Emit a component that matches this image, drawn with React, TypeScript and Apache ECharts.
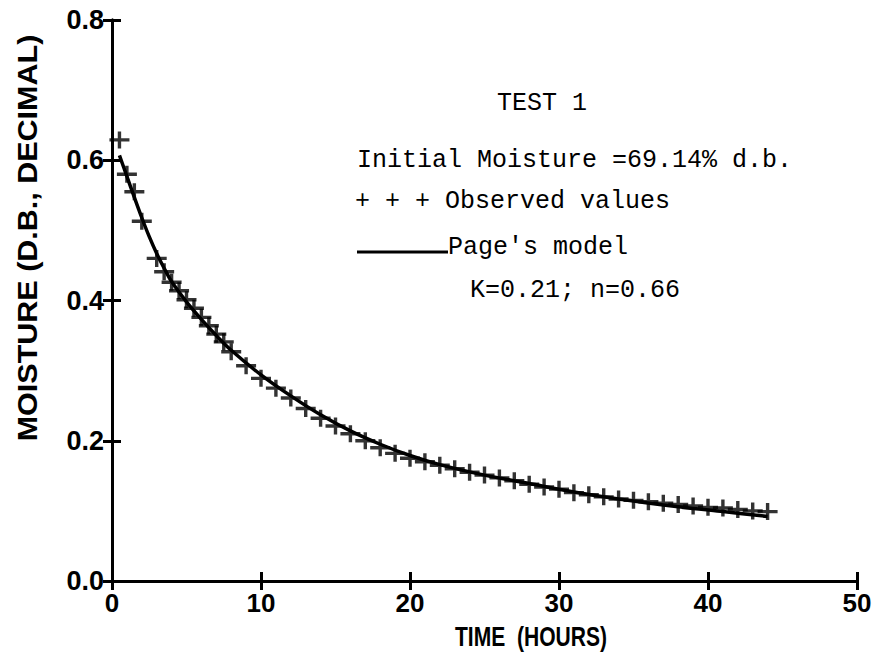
import React, { useEffect, useRef } from "react";
import * as echarts from "echarts";

// Observed values (+ markers)
const observedHours = [
  0.5, 1, 1.5, 2, 3, 3.5, 4, 4.5, 5, 5.5, 6, 6.5, 7, 7.5, 8, 9, 10, 11, 12, 13,
  14, 15, 16, 17, 18, 19, 20, 21, 22, 23, 24, 25, 26, 27, 28, 29, 30, 31, 32,
  33, 34, 35, 36, 37, 38, 39, 40, 41, 42, 43, 44,
];
const observedMoisture = [
  0.629, 0.58, 0.555, 0.513, 0.46, 0.441, 0.426, 0.414, 0.401, 0.389, 0.376,
  0.364, 0.352, 0.341, 0.327, 0.307, 0.289, 0.275, 0.261, 0.246, 0.232, 0.221,
  0.21, 0.2, 0.19, 0.182, 0.175, 0.17, 0.165, 0.16, 0.155, 0.151, 0.147, 0.143,
  0.138, 0.134, 0.131, 0.126, 0.123, 0.12, 0.117, 0.115, 0.113, 0.111, 0.109,
  0.107, 0.105, 0.104, 0.102, 0.1, 0.099,
];

// Page's model curve
const modelHours = [
  0.5, 1, 1.5, 2, 2.5, 3, 3.5, 4, 5, 6, 7, 8, 10, 12, 14, 16, 18, 20, 22, 25,
  28, 31, 34, 38, 41, 44,
];
const modelMoisture = [
  0.607, 0.577, 0.547, 0.518, 0.491, 0.467, 0.446, 0.427, 0.398, 0.373, 0.35,
  0.329, 0.294, 0.264, 0.237, 0.214, 0.195, 0.179, 0.166, 0.151, 0.139, 0.127,
  0.117, 0.106, 0.099, 0.092,
];

const xTicks = [0, 10, 20, 30, 40, 50];
const yTicks = [0, 0.2, 0.4, 0.6, 0.8];

const legendTexts = {
  title: "TEST 1",
  initial: "Initial Moisture =69.14% d.b.",
  observed: "+ + + Observed values",
  model: "Page's model",
  params: "K=0.21; n=0.66",
};

const xName = "TIME  (HOURS)";
const yName = "MOISTURE (D.B., DECIMAL)";

const PLUS =
  "path://M0,6.8L20,6.8L20,10.2L0,10.2Z M8.3,0L11.7,0L11.7,17L8.3,17Z";

const labelFont = "'Liberation Sans', Arial, sans-serif";
const monoFont = "'Liberation Mono', 'Courier New', monospace";

export default function App() {
  const ref = useRef<HTMLDivElement>(null);

  useEffect(() => {
    if (!ref.current) return;
    const chart = echarts.init(ref.current, undefined, { renderer: "svg" });

    const xMin = xTicks[0];
    const xMax = xTicks[xTicks.length - 1];
    const xInt = xTicks[1] - xTicks[0];
    const yMin = yTicks[0];
    const yMax = yTicks[yTicks.length - 1];
    const yInt = yTicks[1] - yTicks[0];

    const axisLine = { show: true, lineStyle: { color: "#000", width: 3 } };
    const axisTick = {
      show: true,
      inside: true,
      length: 9,
      lineStyle: { color: "#000", width: 3 },
    };

    const monoText = (text: string, x: number, y: number) => ({
      type: "text",
      x,
      y,
      style: {
        text,
        font: `normal 25px ${monoFont}`,
        fill: "#000",
        verticalAlign: "middle",
        align: "left",
      },
    });

    const option: any = {
      animation: false,
      backgroundColor: "#fff",
      grid: { left: 112, right: 23, top: 20, bottom: 84, containLabel: false },
      xAxis: [
        {
          type: "value",
          min: xMin,
          max: xMax,
          interval: xInt,
          position: "bottom",
          axisLine,
          axisTick,
          splitLine: { show: false },
          axisLabel: {
            color: "#000",
            fontFamily: labelFont,
            fontWeight: "bold",
            fontSize: 26,
            margin: 9,
            formatter: (v: number) => String(Math.round(v)),
          },
        },
        {
          type: "value",
          min: xMin,
          max: xMax,
          interval: xInt,
          position: "top",
          axisLine,
          axisTick,
          splitLine: { show: false },
          axisLabel: { show: false },
        },
      ],
      yAxis: [
        {
          type: "value",
          min: yMin,
          max: yMax,
          interval: yInt,
          position: "left",
          axisLine,
          axisTick,
          splitLine: { show: false },
          axisLabel: {
            color: "#000",
            fontFamily: labelFont,
            fontWeight: "bold",
            fontSize: 27,
            margin: 8,
            formatter: (v: number) => v.toFixed(1),
          },
        },
        {
          type: "value",
          min: yMin,
          max: yMax,
          interval: yInt,
          position: "right",
          axisLine,
          axisTick,
          splitLine: { show: false },
          axisLabel: { show: false },
        },
      ],
      series: [
        {
          name: "Page's model",
          type: "line",
          xAxisIndex: 0,
          yAxisIndex: 0,
          data: modelHours.map((h, i) => [h, modelMoisture[i]]),
          smooth: 0.3,
          showSymbol: false,
          symbol: "none",
          lineStyle: { color: "#000", width: 3.5 },
          z: 3,
        },
        {
          name: "Observed values",
          type: "scatter",
          xAxisIndex: 0,
          yAxisIndex: 0,
          data: observedHours.map((h, i) => [h, observedMoisture[i]]),
          symbol: PLUS,
          symbolSize: [20, 17],
          itemStyle: { color: "#000" },
          z: 4,
        },
      ],
      graphic: [
        monoText(legendTexts.title, 497, 103),
        monoText(legendTexts.initial, 357, 160),
        monoText(legendTexts.observed, 355, 201),
        {
          type: "line",
          shape: { x1: 357, y1: 252, x2: 448, y2: 252 },
          style: { stroke: "#000", lineWidth: 3 },
        },
        monoText(legendTexts.model, 448, 247),
        monoText(legendTexts.params, 470, 290),
        {
          type: "text",
          x: 531,
          y: 637,
          scaleX: 0.78,
          style: {
            text: xName,
            font: `bold 27px ${labelFont}`,
            fill: "#000",
            verticalAlign: "middle",
            align: "center",
          },
        },
        {
          type: "text",
          x: 28,
          y: 238,
          rotation: Math.PI / 2,
          scaleX: 1.13,
          style: {
            text: yName,
            font: `bold 27px ${labelFont}`,
            fill: "#000",
            verticalAlign: "middle",
            align: "center",
          },
        },
      ],
    };

    chart.setOption(option);
    return () => chart.dispose();
  }, []);

  return (
    <div
      ref={ref}
      style={{
        position: "fixed",
        left: 0,
        top: 0,
        width: 880,
        height: 665,
        background: "#fff",
      }}
    />
  );
}
